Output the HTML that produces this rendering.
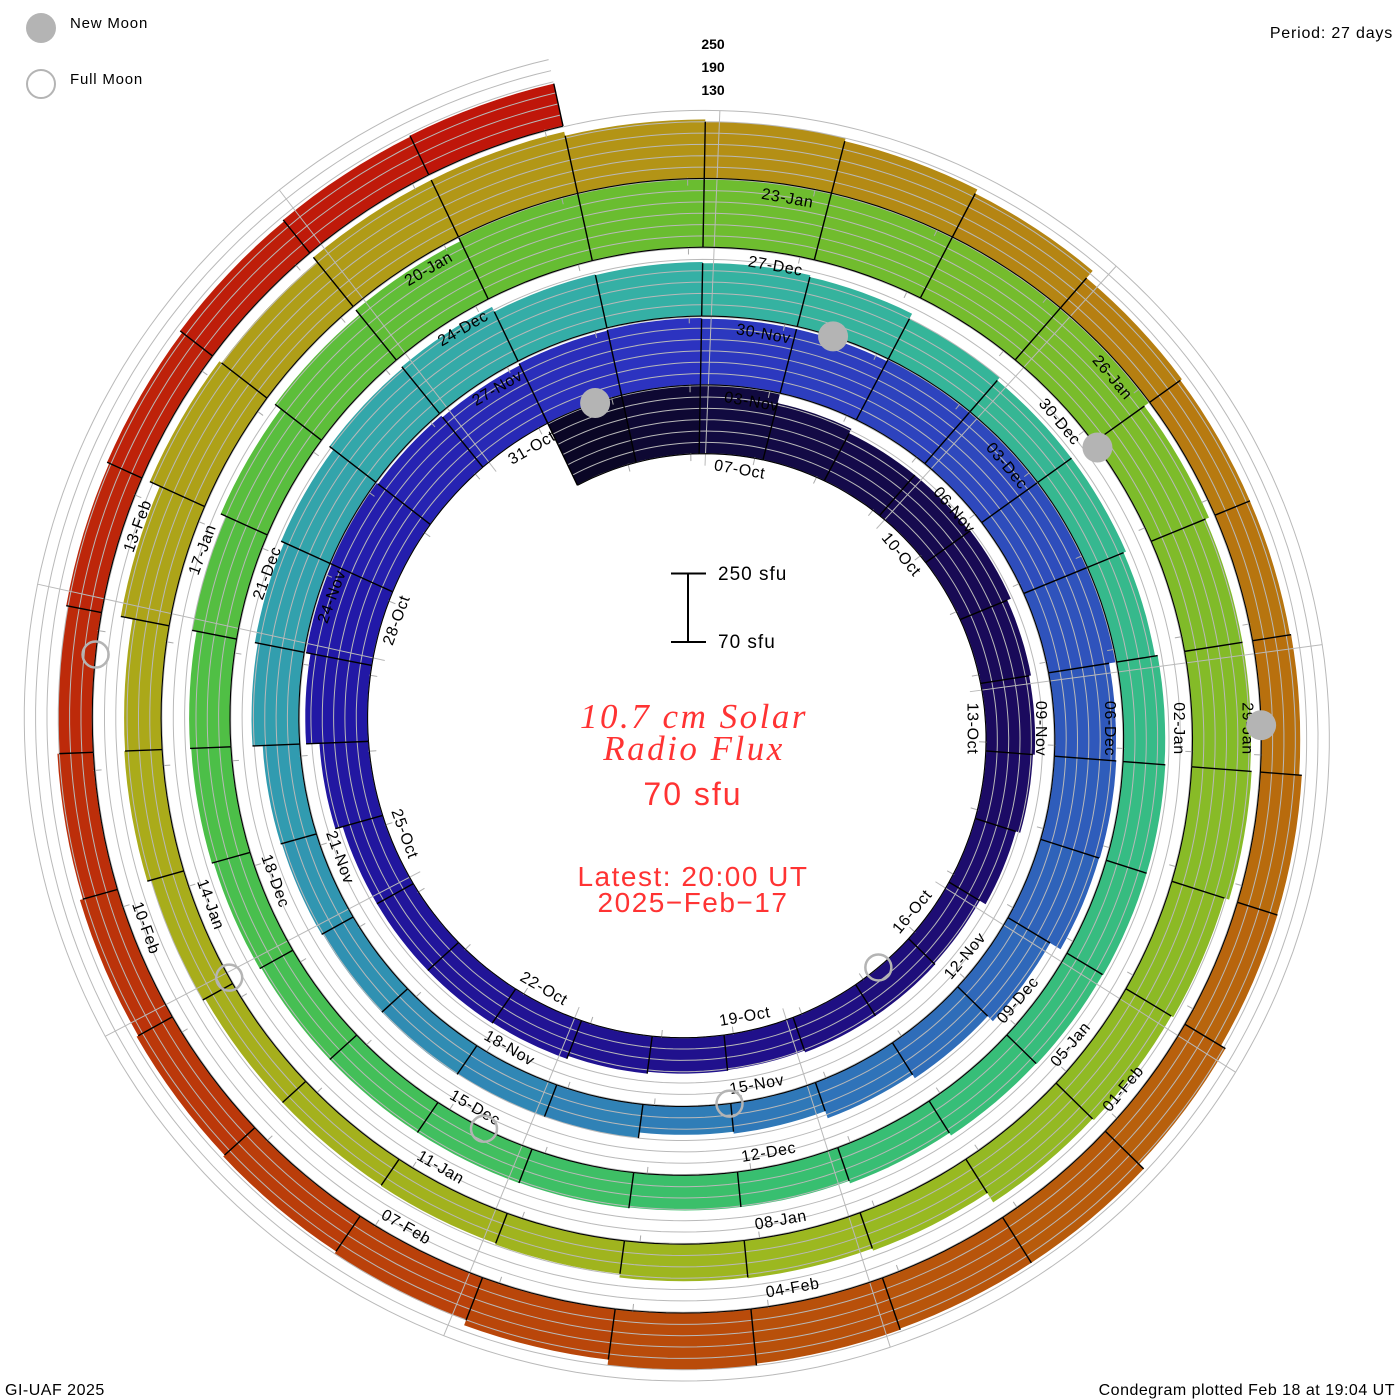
<!DOCTYPE html>
<html><head><meta charset="utf-8"><title>10.7 cm Solar Radio Flux Condegram</title>
<style>
html,body{margin:0;padding:0;background:#fff;}
svg{display:block;font-family:"Liberation Sans",sans-serif;}
</style></head>
<body>
<svg id="chart" width="1400" height="1400" viewBox="0 0 1400 1400" xmlns="http://www.w3.org/2000/svg">
  <g id="bars"></g>
  <g id="grid"></g>
  <g id="edges"></g>
  <g id="labels"></g>
  <g id="moons"></g>

  <g>
    <circle cx="41" cy="28" r="15" fill="#b4b4b4"/>
    <text x="70" y="28" font-size="15" letter-spacing="0.8" fill="#000">New Moon</text>
    <circle cx="41" cy="84" r="14" fill="none" stroke="#b4b4b4" stroke-width="2"/>
    <text x="70" y="84" font-size="15" letter-spacing="0.8" fill="#000">Full Moon</text>
  </g>
  <text x="1393" y="38" font-size="16" text-anchor="end" letter-spacing="0.8">Period: 27 days</text>
  <g font-size="14" font-weight="bold" text-anchor="middle">
    <text x="713" y="49">250</text>
    <text x="713" y="72">190</text>
    <text x="713" y="95">130</text>
  </g>
  <g stroke="#000" stroke-width="2">
    <line x1="688" y1="573.5" x2="688" y2="642"/>
    <line x1="671" y1="573.5" x2="706" y2="573.5"/>
    <line x1="671" y1="642" x2="706" y2="642"/>
  </g>
  <text x="718" y="580" font-size="19" letter-spacing="1">250 sfu</text>
  <text x="718" y="648" font-size="19" letter-spacing="1">70 sfu</text>
  <g fill="#ff3333" text-anchor="middle">
    <text x="694" y="728" font-family="'Liberation Serif',serif" font-style="italic" font-size="35" letter-spacing="2.5">10.7 cm Solar</text>
    <text x="694" y="760" font-family="'Liberation Serif',serif" font-style="italic" font-size="35" letter-spacing="2.5">Radio Flux</text>
    <text x="693" y="805" font-size="32" letter-spacing="2">70 sfu</text>
    <text x="693" y="886" font-size="28" letter-spacing="1.5">Latest: 20:00 UT</text>
    <text x="693" y="912" font-size="28" letter-spacing="1.5">2025−Feb−17</text>
  </g>
  <text x="5" y="1395" font-size="16" letter-spacing="0.5">GI-UAF 2025</text>
  <text x="1395" y="1395" font-size="16" text-anchor="end" letter-spacing="0.5">Condegram plotted Feb 18 at 19:04 UT</text>
</svg>
<script>
// ---- data ----
const startDate = "2024-10-05";          // first bar
const fluxOct = [290,265,253,225,212,212,215,205,200,195,183,165,168,168,163,165,170,178,180,180,180,200,235,247,258,245,240];
const fluxNov = [245,247,245,245,250,250,250,250,232,234,232,200,181,170,150,145,160,160,162,162,165,168,195,203,212,225,229,215,213,210];
const fluxDec = [205,190,180,180,173,180,182,182,180,178,170,163,163,165,166,166,166,170,175,178,190,205,225,240,250,252,252,253,252,252,235];
const fluxJan = [225,225,229,216,210,205,176,170,168,158,155,153,153,160,170,168,200,229,222,237,237,226,220,212,200,175,170,170,173,180,181];
const fluxFeb = [195,212,212,215,220,205,191,183,178,173,165,160,165,171,178,182,185];
const levels = [70,100,130,160,190,220,250];
const newMoons = ["2024-11-01T12:47","2024-12-01T06:21","2024-12-30T22:27","2025-01-29T12:36"];
const fullMoons = ["2024-10-17T11:26","2024-11-15T21:28","2024-12-15T09:02","2025-01-13T22:27","2025-02-12T13:53"];
const monthNames = ["Jan","Feb","Mar","Apr","May","Jun","Jul","Aug","Sep","Oct","Nov","Dec"];

const flux = fluxOct.concat(fluxNov, fluxDec, fluxJan, fluxFeb);

// ---- geometry ----
const CX=694, CY=728.5, R0=276.5, K=2.55, S=0.378, BASE=70;
const REF = Date.UTC(2024,9,7);
const DAY = 86400000;
function dayT(s){const dt=s.split("T");const p=dt[0].split("-");let hm=[0,0];if(dt[1])hm=dt[1].split(":").map(Number);
  return (Date.UTC(+p[0],+p[1]-1,+p[2],hm[0],hm[1])-REF)/DAY;}
function ang(t){return (10+13.33333*t)*Math.PI/180;}
function Rb(t){return R0+K*t;}
function hgt(f){return (f-BASE)*S;}
function P(t,r){const a=ang(t);return [CX+r*Math.sin(a), CY-r*Math.cos(a)];}
const NS="http://www.w3.org/2000/svg";
function mk(tag,attrs,parent){const e=document.createElementNS(NS,tag);for(const k in attrs)e.setAttribute(k,attrs[k]);parent.appendChild(e);return e;}

const colorStops=[[-2,"#0a0625"],[0,"#110a40"],[6,"#1b0a5e"],[12,"#20108a"],[21,"#2219a8"],[26,"#2c33c0"],[33,"#2f58bb"],[39,"#2f78b8"],[46,"#319bb0"],[53,"#35b0a5"],[60,"#36bb88"],[66,"#38bf70"],[73,"#4cbf48"],[80,"#6abd30"],[87,"#84bb28"],[93,"#9cb820"],[100,"#aaab1a"],[107,"#b39416"],[114,"#b8700e"],[120,"#b8500a"],[127,"#bc2e0a"],[134,"#c0120a"]];
function hex(c){return [parseInt(c.substr(1,2),16),parseInt(c.substr(3,2),16),parseInt(c.substr(5,2),16)];}
function colorAt(t){
  if(t<=colorStops[0][0])return colorStops[0][1];
  for(let i=1;i<colorStops.length;i++){
    if(t<=colorStops[i][0]){const a=colorStops[i-1],b=colorStops[i];const u=(t-a[0])/(b[0]-a[0]);
      const ca=hex(a[1]),cb=hex(b[1]);return "rgb("+ca.map((v,j)=>Math.round(v+(cb[j]-v)*u)).join(",")+")";}
  }
  return colorStops[colorStops.length-1][1];
}
function pts(arr){return arr.map(p=>p[0].toFixed(1)+","+p[1].toFixed(1)).join(" ");}

const gBars=document.getElementById("bars"), gGrid=document.getElementById("grid"),
      gEdges=document.getElementById("edges"), gLab=document.getElementById("labels"), gMoon=document.getElementById("moons");
const t0=dayT(startDate);
const tStart=t0-0.67, tEnd=t0+flux.length-1+0.33;

// bars
flux.forEach((f,i)=>{
  const td=t0+i, a=td-0.67, b=td+0.33, h=hgt(f);
  const inner=[], outer=[];
  for(let k=0;k<=8;k++){const t=a+(b-a)*k/8;inner.push(P(t,Rb(t)));outer.push(P(t,Rb(t)+h));}
  const poly=mk("polygon",{points:pts(inner.concat(outer.reverse())),fill:colorAt(td)},gBars);
  
  
  const base=mk("polyline",{points:pts(inner),fill:"none",stroke:"#000","stroke-width":1.1},gEdges);
  
  
  const p1=P(a,Rb(a)), p2=P(a,Rb(a)+h);
  const dv=mk("line",{x1:p1[0],y1:p1[1],x2:p2[0],y2:p2[1],stroke:"#000","stroke-width":1.4},gEdges);
  
  
  if(i===flux.length-1){const q1=P(b,Rb(b)),q2=P(b,Rb(b)+h);
    const de=mk("line",{x1:q1[0],y1:q1[1],x2:q2[0],y2:q2[1],stroke:"#000","stroke-width":1.4},gEdges);
    
    }
  const tk=td+0.2, k1=P(tk,Rb(tk)-7), k2=P(tk,Rb(tk)+1);
  const tl=mk("line",{x1:k1[0],y1:k1[1],x2:k2[0],y2:k2[1],stroke:"#aaa","stroke-width":1},gGrid);
  
  
});

// reference spirals
levels.forEach(L=>{
  const arr=[];for(let t=tStart;t<=tEnd+0.001;t+=0.1)arr.push(P(t,Rb(t)+hgt(L)));
  const pl=mk("polyline",{points:pts(arr),fill:"none",stroke:"#b9b9b9","stroke-width":1},gGrid);
  
  
});
// spokes
for(let k=0;k<9;k++){
  const phi=2.4+40*k;
  let tf=(phi-10)/13.33333; while(tf<tStart)tf+=27; while(tf-27>=tStart)tf-=27;
  let tl=tf; while(tl+27<=tEnd)tl+=27;
  const s1=P(tf,Rb(tf)-12), s2=P(tl,Rb(tl)+hgt(250));
  const sp=mk("line",{x1:s1[0],y1:s1[1],x2:s2[0],y2:s2[1],stroke:"#b9b9b9","stroke-width":1},gGrid);
  
  
}

// date labels every 3 days
for(let t=0;t<=tEnd-3;t+=3){
  const d=new Date(REF+t*DAY);
  const txt=String(d.getUTCDate()).padStart(2,"0")+"-"+monthNames[d.getUTCMonth()];
  const p=P(t,Rb(t)-14);
  let a=(10+13.33333*t)%360; let rot=(a<=90||a>270)?a:a-180;
  const el=mk("text",{x:p[0].toFixed(1),y:p[1].toFixed(1),"font-size":16,"letter-spacing":0.6,"text-anchor":"middle","dominant-baseline":"central",transform:"rotate("+rot.toFixed(1)+" "+p[0].toFixed(1)+" "+p[1].toFixed(1)+")"},gLab);
  el.textContent=txt;
  
  
}

// moons (plot offset matches reference placement)
const MOON_SHIFT=-0.55;
newMoons.forEach(s=>{const t=dayT(s)+MOON_SHIFT;const p=P(t,Rb(t));
  const c=mk("circle",{cx:p[0],cy:p[1],r:15,fill:"#b4b4b4"},gMoon);
  
  });
fullMoons.forEach(s=>{const t=dayT(s)+MOON_SHIFT;const p=P(t,Rb(t));
  const c=mk("circle",{cx:p[0],cy:p[1],r:13,fill:"none",stroke:"#b4b4b4","stroke-width":2.5},gMoon);
  
  });
</script>
</body></html>
